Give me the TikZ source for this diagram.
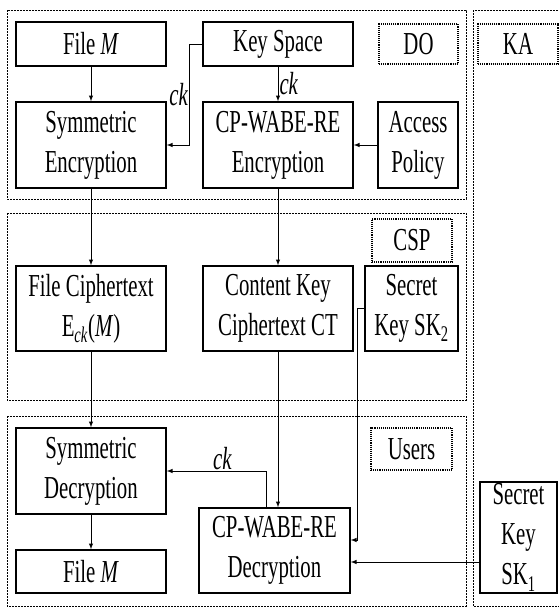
\documentclass[tikz,border=0pt]{standalone}
\usepackage{fontspec}
\setmainfont[FakeStretch=0.65]{Liberation Serif}
\usetikzlibrary{arrows}

\begin{document}
\begin{tikzpicture}[x=1pt,y=-1pt]
				\tikzstyle{box}=[draw,line width=1.4pt,inner sep=0pt,align=center,font=\fontsize{32}{40}\selectfont]
				\tikzstyle{tag}=[draw,densely dotted,line width=1.1pt,inner sep=0pt,font=\fontsize{32}{40}\selectfont]
				\tikzstyle{frame}=[draw,dash pattern=on 2pt off 1pt,line width=1pt]
				\tikzstyle{arr}=[-latex,line width=1pt]
				\tikzstyle{lbl}=[font=\fontsize{32}{40}\selectfont\itshape,inner sep=1pt]
				\useasboundingbox (0,0) rectangle (559,608);
				
				% frames
				\draw[frame] (7,10) rectangle (466,199);
				\draw[frame] (7,213) rectangle (466,400);
				\draw[frame] (7,416) rectangle (466,606);
				\draw[frame] (473,10) rectangle (566,606);
				
				\node[tag,minimum width=79pt,minimum height=40pt] (do) at (418.5,44) {DO};
				\node[tag,minimum width=80pt,minimum height=40pt] (ka) at (518,44) {KA};
				\node[tag,minimum width=80pt,minimum height=43pt] (csp) at (412,240.5) {CSP};
				\node[tag,minimum width=81pt,minimum height=42pt] (users) at (411.5,449) {Users};
				
				% DO
				\node[box,minimum width=150pt,minimum height=44pt] (fileM) at (91,44) {File \textit{M}};
				\node[box,minimum width=150pt,minimum height=44pt] (keyspace) at (278,44) {Key Space};
				\node[box,minimum width=150pt,minimum height=86pt] (symenc) at (91,145) {Symmetric\\Encryption};
				\node[box,minimum width=150pt,minimum height=86pt] (abeenc) at (278,145) {CP-WABE-RE\\Encryption};
				\node[box,minimum width=80pt,minimum height=86pt] (policy) at (418,145) {Access\\Policy};
				
				% CSP
				\node[box,minimum width=150pt,minimum height=85pt] (filect) at (91,308.5) {File Ciphertext\\E\textsubscript{\textit{ck}}(\textit{M})};
				\node[box,minimum width=150pt,minimum height=85pt] (keyct) at (278,308.5) {Content Key\\Ciphertext CT};
				\node[box,minimum width=93pt,minimum height=85pt] (sk2) at (411.5,308.5) {Secret\\Key SK\textsubscript{2}};
				
				% Users
				\node[box,minimum width=150pt,minimum height=86pt] (symdec) at (91,471) {Symmetric\\Decryption};
				\node[box,minimum width=150pt,minimum height=43pt] (fileM2) at (91,571.5) {File \textit{M}};
				\node[box,minimum width=151pt,minimum height=85pt] (abedec) at (274.5,550.5) {CP-WABE-RE\\Decryption};
				
				% KA
				\node[box,minimum width=77pt,minimum height=111pt] (sk1) at (518.5,537.5) {Secret\\Key\\SK\textsubscript{1}};
				
				\draw[arr] (fileM) -- (symenc);
				\draw[arr] (keyspace.west) -- ++(-13,0) |- (symenc.east) node[lbl,pos=0.25,left] {ck};
				\draw[arr] (keyspace) -- (abeenc) node[lbl,midway,right] {ck};
				\draw[arr] (policy) -- (abeenc);
				\draw[arr] (symenc) -- (filect);
				\draw[arr] (abeenc) -- (keyct);
				\draw[arr] (filect) -- (symdec);
				\draw[arr] (symdec) -- (fileM2);
				\draw[arr] (keyct.south) -- (keyct.south |- abedec.north);
				\draw[arr] (sk2.west) -- ++(-7,0) |- ([yshift=10.5pt]abedec.east);
				\draw[arr] ([yshift=-24.5pt]sk1.west) -- ([yshift=-11.5pt]abedec.east);
				\draw[arr] ([xshift=-8.5pt]abedec.north) |- (symdec.east) node[lbl,pos=0.72,above] {ck};
				
				;\end{tikzpicture}
\end{document}
